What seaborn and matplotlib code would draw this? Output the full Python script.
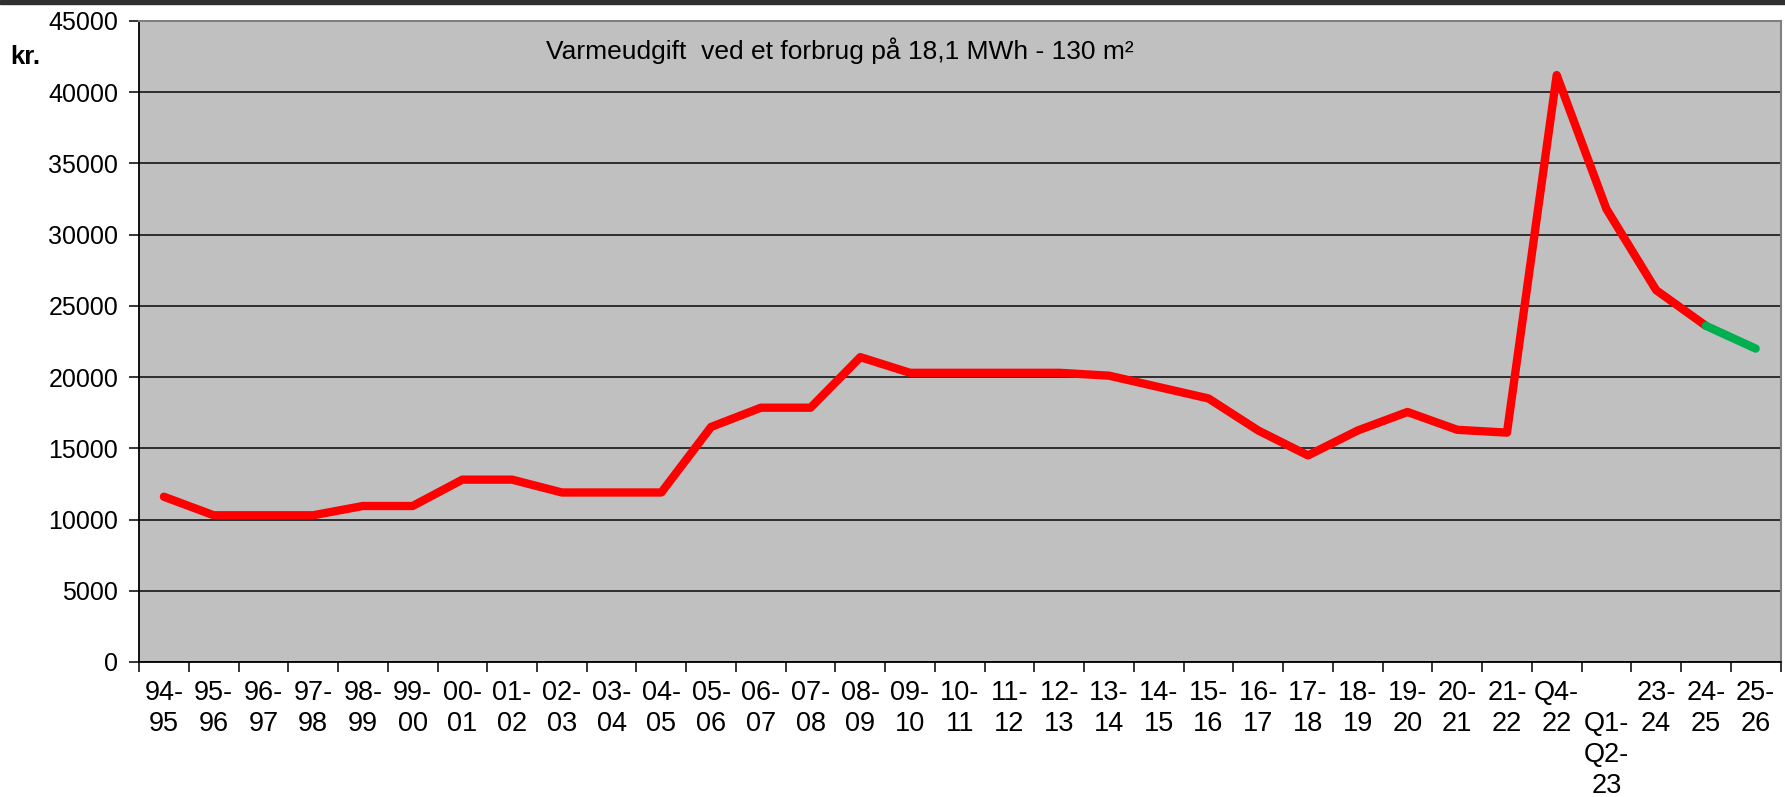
import matplotlib
matplotlib.use("Agg")
import matplotlib.pyplot as plt
from matplotlib.patches import Rectangle
from matplotlib.ticker import MultipleLocator, FixedLocator
import seaborn as sns
import pandas as pd

periods = [
    "94-\n95", "95-\n96", "96-\n97", "97-\n98", "98-\n99", "99-\n00",
    "00-\n01", "01-\n02", "02-\n03", "03-\n04", "04-\n05", "05-\n06",
    "06-\n07", "07-\n08", "08-\n09", "09-\n10", "10-\n11", "11-\n12",
    "12-\n13", "13-\n14", "14-\n15", "15-\n16", "16-\n17", "17-\n18",
    "18-\n19", "19-\n20", "20-\n21", "21-\n22", "Q4-\n22", "\nQ1-\nQ2-\n23",
    "23-\n24", "24-\n25", "25-\n26",
]
cost = [
    11600, 10300, 10300, 10300, 10950, 10950,
    12800, 12800, 11900, 11900, 11900, 16500,
    17850, 17850, 21400, 20300, 20300, 20300,
    20300, 20100, 19300, 18500, 16250, 14500,
    16250, 17550, 16300, 16100, 41200, 31800,
    26100, 23600, 22000,
]
# the last step (24-25 -> 25-26) is drawn in green as a forecast
n_forecast = 2

title = "Varmeudgift  ved et forbrug på 18,1 MWh - 130 m²"
ylabel = "kr."

df = pd.DataFrame({"period": periods, "kr": cost})
actual = df.iloc[: len(df) - n_forecast + 1]
forecast = df.iloc[len(df) - n_forecast:]

sns.set_style("white")
plt.rcParams["font.family"] = ["Liberation Sans", "DejaVu Sans"]
plt.rcParams["text.color"] = "black"
plt.rcParams["xtick.color"] = "black"
plt.rcParams["ytick.color"] = "black"

fig, ax = plt.subplots(figsize=(17.85, 7.97), dpi=100)
fig.subplots_adjust(left=0.0779, right=0.9975, top=0.9737, bottom=0.1694)

sns.lineplot(data=actual, x="period", y="kr", color="#ff0000", lw=6,
             solid_capstyle="round", solid_joinstyle="round", ax=ax, sort=False)
sns.lineplot(data=forecast, x="period", y="kr", color="#00b050", lw=6,
             solid_capstyle="round", ax=ax, sort=False)

n = len(periods)
ax.set_xlim(-0.5, n - 0.5)
ax.set_ylim(0, 45000)
ax.set_facecolor("#c0c0c0")
ax.yaxis.set_major_locator(MultipleLocator(5000))
ax.grid(axis="y", color="#151515", lw=1.2)
ax.grid(axis="x", visible=False)
ax.set_axisbelow(True)

ax.set_xticks(range(n))
ax.set_xticklabels(periods, linespacing=1.25, va="top")
ax.xaxis.set_minor_locator(FixedLocator([i - 0.5 for i in range(n + 1)]))
ax.tick_params(axis="x", which="major", length=0, pad=13, labelsize=19.5)
ax.tick_params(axis="x", which="minor", length=7, width=1.1, color="black",
               direction="out", bottom=True)
ax.tick_params(axis="y", length=7, width=1.1, color="black", direction="out",
               left=True, pad=8, labelsize=18)

for side in ["left", "bottom"]:
    ax.spines[side].set_color("black")
    ax.spines[side].set_linewidth(1.3)
for side in ["top", "right"]:
    ax.spines[side].set_color("#808080")
    ax.spines[side].set_linewidth(1.5)

ax.set(xlabel="", ylabel="")
ax.text(0.306, 0.936, title, transform=fig.transFigure, fontsize=19,
        ha="left", va="center")
fig.text(0.006, 0.929, ylabel, fontsize=18.5, fontweight="bold",
         ha="left", va="center")

# dark strip along the top edge of the screenshot
fig.patches.append(Rectangle((0, 0.995), 1, 0.005, transform=fig.transFigure,
                             color="#303030", zorder=10))

fig.savefig("out.png", dpi=100)
